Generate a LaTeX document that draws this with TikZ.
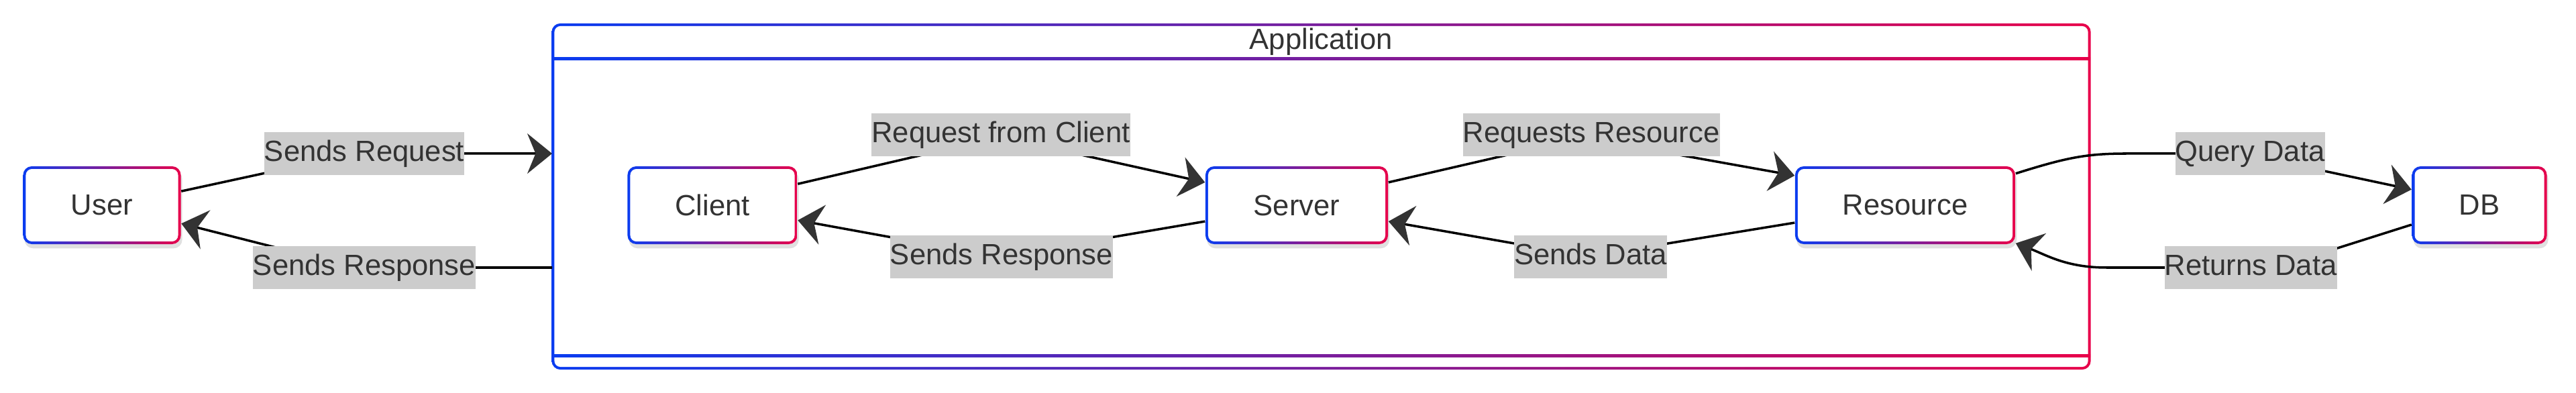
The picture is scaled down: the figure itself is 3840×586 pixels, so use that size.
\documentclass[tikz,border=0pt]{standalone}
\usepackage{fontspec}
\setmainfont{Liberation Sans}
\usetikzlibrary{arrows.meta,shadows}

\definecolor{edgeblue}{HTML}{0A3CF0}
\definecolor{edgered}{HTML}{E8004A}
\definecolor{labelgray}{HTML}{CCCCCC}
\definecolor{inkgray}{HTML}{333333}

\tikzset{
	gradbox/.style={shade, left color=edgeblue, right color=edgered,
		rounded corners=3.7pt, inner sep=0pt, text=inkgray,
		path picture={\fill[white, rounded corners=2.6pt]
			([shift={(1.15pt,1.15pt)}]path picture bounding box.south west) rectangle
			([shift={(-1.15pt,-1.15pt)}]path picture bounding box.north east);}},
	procbox/.style={gradbox, minimum height=1.16cm,
		drop shadow={shadow xshift=0.6pt, shadow yshift=-1.8pt, opacity=0.12, fill=black}},
	flowlabel/.style={fill=labelgray, text=inkgray, inner xsep=0pt, inner ysep=3pt,
		text height=9.4pt, text depth=2.6pt},
	flow/.style={line width=1pt, -{Stealth[length=10.5pt, width=17pt, inset=3.5pt, color=inkgray]}}
}

\begin{document}
\begin{tikzpicture}[x=0.01cm, y=-0.01cm, line join=round, font=\fontsize{12.4pt}{15pt}\selectfont]
	\useasboundingbox (0,0) rectangle (3840,586);
	
	% subgraph frame
	\node[gradbox, minimum width=22.93cm, minimum height=5.16cm] (app) at (1969.5,293) {};
	\shade[left color=edgeblue, right color=edgered] (823,86) rectangle (3116,90);
	\shade[left color=edgeblue, right color=edgered] (823,529) rectangle (3116,533);
	\node[text=inkgray] (apptitle) at (1969.5,62) {Application};
	
	\foreach \n/\x/\w/\t in {user/152/2.35/User, client/1062/2.53/Client,
		server/1933/2.72/Server, resource/2840/3.28/Resource, db/3696/2.01/DB} {
		\node[procbox, minimum width=\w cm] (\n) at (\x,306) {\t};
	}
	
	\path
	(823,229) coordinate (appin)
	(823,399) coordinate (appout)
	(543,229) coordinate (lreq)
	(543,399) coordinate (lres)
	(1492,201) coordinate (lcs)
	(1493,383) coordinate (lsc)
	(2372,201) coordinate (lsr)
	(2371,383) coordinate (lrs)
	(3354,229) coordinate (lrd)
	(3355,399) coordinate (ldr);
	
	\draw[flow] (user.10) -- (400,257) -- (lreq) -- (appin);
	\draw[flow] (appout) -- (lres) -- (415,370) -- (user.-13);
	\draw[flow] (client.14) -- (1375,231) -- (lcs) -- (1612,231) -- (server.166);
	\draw[flow] (server.190) -- (1650,355) -- (lsc) -- (1335,355) -- (client.-10);
	\draw[flow] (server.14) -- (2247,231) -- (lsr) -- (2503,231) -- (resource.165);
	\draw[flow] (resource.189) -- (2480,364) -- (lrs) -- (2263,364) -- (server.-10);
	\draw[flow] (resource.16) .. controls (3080,235) and (3110,229) .. (3170,229) -- (lrd)
		-- (3460,254) -- (db.167);
	\draw[flow] (db.196) -- (3478,372) -- (ldr) -- (3140,399)
		.. controls (3080,399) and (3050,380) .. (resource.-19);
	
	\foreach \p/\t in {lreq/Sends Request, lres/Sends Response, lcs/Request from Client,
		lsc/Sends Response, lsr/Requests Resource, lrs/Sends Data,
		lrd/Query Data, ldr/Returns Data} {
		\node[flowlabel] (\p txt) at (\p) {\t};
	}
\end{tikzpicture}
\end{document}
